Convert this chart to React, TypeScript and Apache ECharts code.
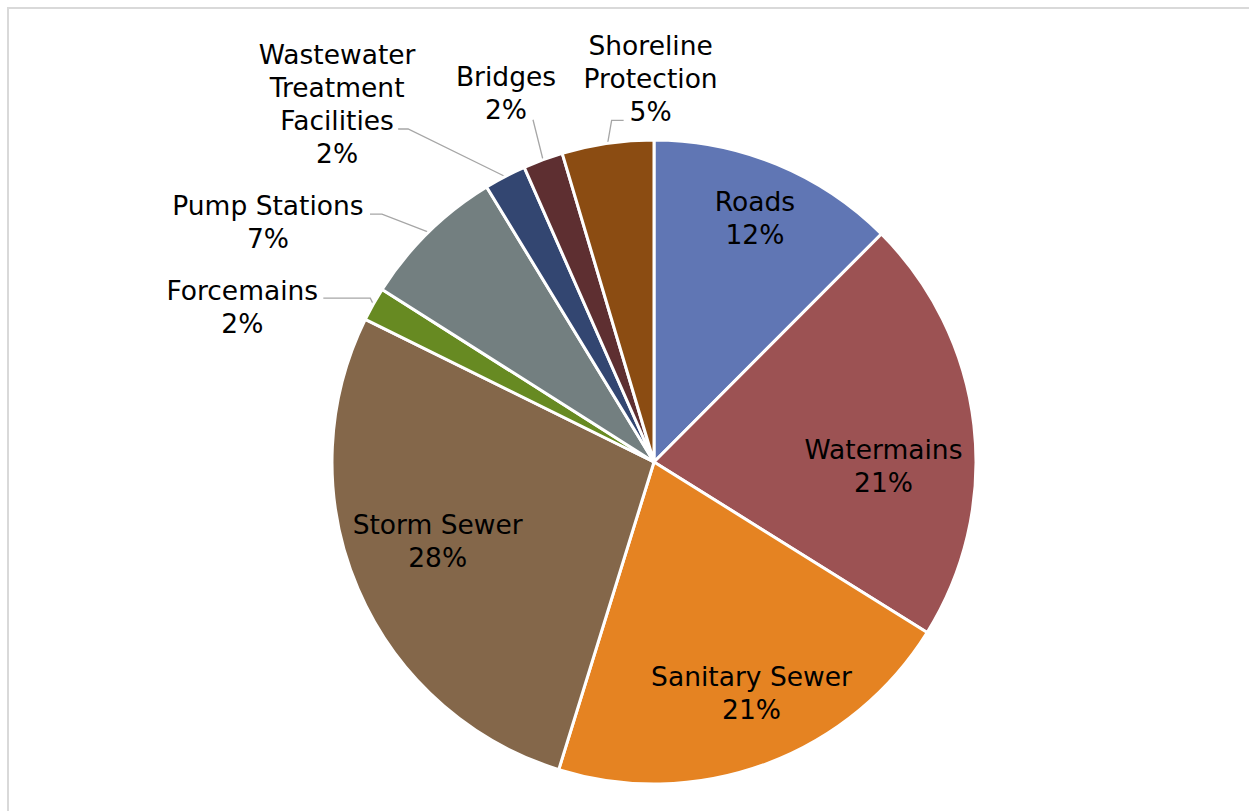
import React, { useEffect, useRef } from "react";
import * as echarts from "echarts";

const categories = [
  "Roads",
  "Watermains",
  "Sanitary Sewer",
  "Storm Sewer",
  "Forcemains",
  "Pump Stations",
  "Wastewater Treatment Facilities",
  "Bridges",
  "Shoreline Protection",
];
const shares = [12.48, 21.4, 20.9, 27.52, 1.7, 7.3, 2.1, 2.0, 4.6];
const colors = [
  "#6076B4",
  "#9C5253",
  "#E58322",
  "#84674A",
  "#678A22",
  "#737F80",
  "#334671",
  "#5E2F31",
  "#8B4C12",
];
const wrapNames = ["Wastewater Treatment Facilities", "Shoreline Protection"];

const CX = 654;
const CY = 462;
const R = 322;

type Place =
  | { inside: true; r: number; dx: number; dy: number }
  | { inside: false; line: number[][]; label: number[] };

const placement: Record<string, Place> = {
  Roads: { inside: true, r: 264, dx: 0, dy: 0 },
  Watermains: { inside: true, r: 231, dx: 0, dy: 30 },
  "Sanitary Sewer": { inside: true, r: 251, dx: 10, dy: -4 },
  "Storm Sewer": { inside: true, r: 230, dx: -5, dy: -12 },
  Forcemains: { inside: false, line: [[-3, -6], [-50, -6]], label: [-81, 9] },
  "Pump Stations": { inside: false, line: [[-46.5, -18], [-58.5, -18]], label: [-102, 8] },
  "Wastewater Treatment Facilities": { inside: false, line: [[-97, -47.5], [-107, -47.5]], label: [-61, -25] },
  Bridges: { inside: false, line: [[-10, -40]], label: [-27, -27] },
  "Shoreline Protection": { inside: false, line: [[4, -23], [16, -23]], label: [27, -42] },
};

function midAngle(i: number): number {
  const total = shares.reduce((a, b) => a + b, 0);
  let before = 0;
  for (let k = 0; k < i; k++) before += shares[k];
  return ((before + shares[i] / 2) / total) * 2 * Math.PI;
}

export default function App() {
  const ref = useRef<HTMLDivElement>(null);
  useEffect(() => {
    if (!ref.current) return;
    const chart = echarts.init(ref.current, undefined, { renderer: "svg" });
    const data = categories.map((name, i) => {
      const p = placement[name];
      return {
        name,
        value: shares[i],
        itemStyle: { color: colors[i] },
        label: { position: p.inside ? "inside" : "outside" },
        labelLine: { show: !p.inside },
      };
    });
    chart.setOption({
      animation: false,
      backgroundColor: "#ffffff",
      graphic: [
        {
          type: "rect",
          z: -1,
          shape: { x: 8, y: 8, width: 1300, height: 900 },
          style: { fill: "none", stroke: "#d9d9d9", lineWidth: 2 },
          silent: true,
        },
      ],
      series: [
        {
          type: "pie",
          center: [CX, CY],
          radius: [0, R],
          startAngle: 90,
          clockwise: true,
          avoidLabelOverlap: false,
          itemStyle: { borderColor: "#ffffff", borderWidth: 3 },
          label: {
            show: true,
            color: "#000000",
            fontFamily: "DejaVu Sans",
            fontSize: 26.5,
            lineHeight: 33,
            align: "center",
            formatter: (p: any) => {
              const nm = wrapNames.includes(p.name) ? p.name.replace(/ /g, "\n") : p.name;
              return nm + "\n" + Math.round(p.percent) + "%";
            },
          },
          labelLine: {
            show: true,
            length: 10,
            length2: 10,
            lineStyle: { color: "#a6a6a6", width: 1.3 },
          },
          labelLayout: (params: any) => {
            const i = params.dataIndex;
            const p = placement[categories[i]];
            const a = midAngle(i);
            const s = Math.sin(a);
            const c = Math.cos(a);
            if (p.inside) {
              return {
                x: CX + p.r * s + p.dx,
                y: CY - p.r * c + p.dy,
                align: "center",
                verticalAlign: "middle",
              };
            }
            const start = [CX + R * s, CY - R * c];
            const pts = [start].concat(p.line.map((d) => [start[0] + d[0], start[1] + d[1]]));
            const end = pts[pts.length - 1];
            return {
              x: end[0] + p.label[0],
              y: end[1] + p.label[1],
              align: "center",
              verticalAlign: "middle",
              labelLinePoints: pts,
            };
          },
          data,
        },
      ],
    });
    return () => chart.dispose();
  }, []);
  return (
    <div
      ref={ref}
      style={{ position: "absolute", left: 0, top: 0, width: 1249, height: 811 }}
    />
  );
}
